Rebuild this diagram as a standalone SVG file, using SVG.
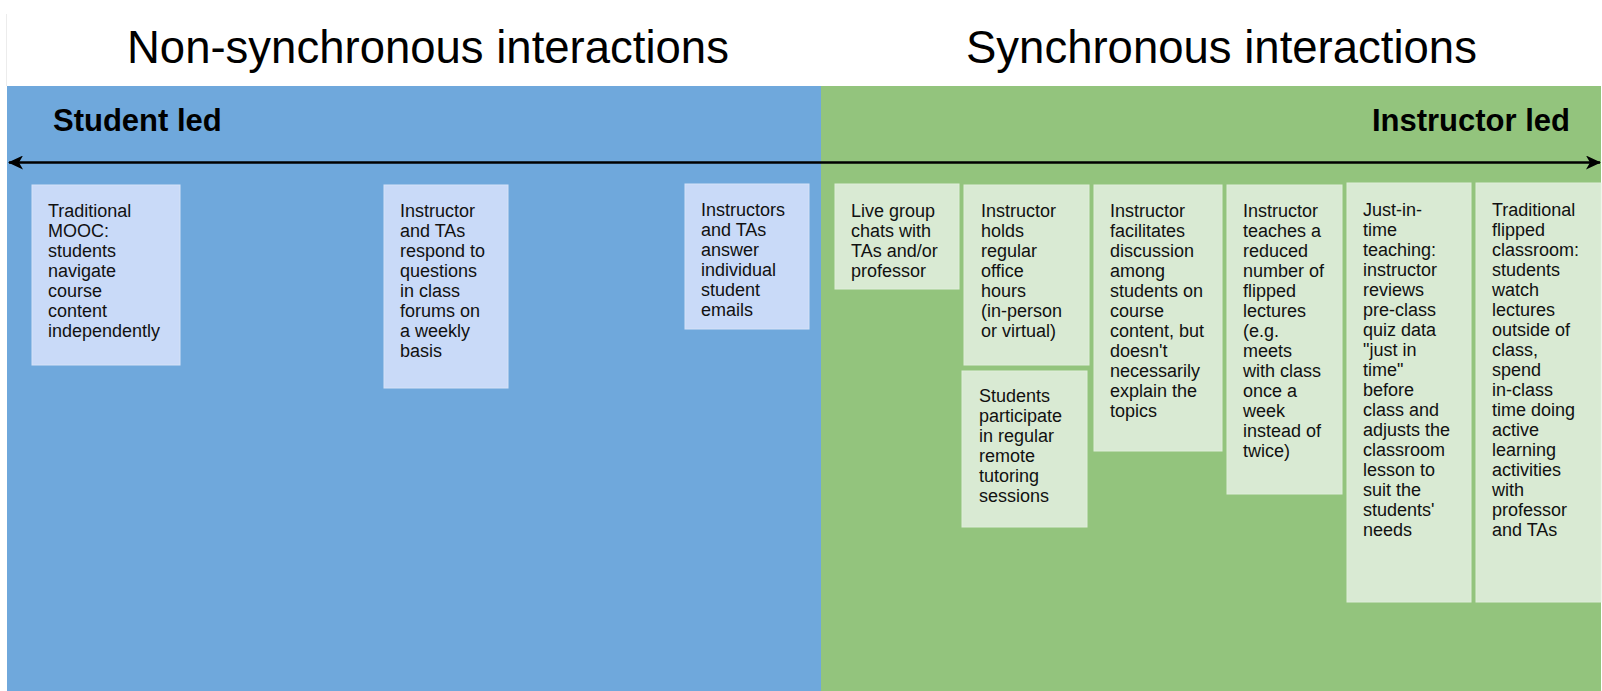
<svg xmlns="http://www.w3.org/2000/svg" width="1602" height="691" viewBox="0 0 1602 691">
<defs>
<style>
.title{font-family:"Liberation Sans",Arial,sans-serif;font-size:45.5px;fill:#000}
.lead{font-family:"Liberation Sans",Arial,sans-serif;font-size:31px;font-weight:bold;fill:#000}
.t{font-family:"Liberation Sans",Arial,sans-serif;font-size:18px;fill:#111}
.bb{fill:#c9daf8;stroke:#d6e2f7;stroke-width:1}
.gb{fill:#d9ead3;stroke:#dfeeda;stroke-width:1}
</style>
<marker id="ah" viewBox="0 0 16 14" refX="15" refY="7" markerWidth="16" markerHeight="14" markerUnits="userSpaceOnUse" orient="auto-start-reverse">
<path d="M16,7 L1,0 L5,7 L1,14 Z" fill="#000"/>
</marker>
</defs>
<rect x="0" y="0" width="1602" height="691" fill="#fff"/>
<line x1="6.5" y1="14" x2="6.5" y2="86" stroke="#ececec" stroke-width="1"/>
<g id="bg-nonsync">
<rect x="7" y="86" width="814" height="605" fill="#6fa8dc"/>
<text class="title" x="127" y="63">Non-synchronous interactions</text>
</g>
<g id="bg-sync">
<rect x="821" y="86" width="780" height="605" fill="#93c47d"/>
<text class="title" x="966" y="63">Synchronous interactions</text>
</g>
<text class="lead" x="53" y="131">Student led</text>
<text class="lead" x="1570" y="131" text-anchor="end">Instructor led</text>
<g id="connectors">
<line x1="9" y1="162.5" x2="1600" y2="162.5" stroke="#000" stroke-width="2.5" marker-start="url(#ah)" marker-end="url(#ah)"/>
</g>
<g id="n1">
<rect class="bb" x="32" y="185" width="148" height="180"/>
<text class="t" x="48" y="217"><tspan x="48">Traditional</tspan><tspan x="48" dy="20">MOOC:</tspan><tspan x="48" dy="20">students</tspan><tspan x="48" dy="20">navigate</tspan><tspan x="48" dy="20">course</tspan><tspan x="48" dy="20">content</tspan><tspan x="48" dy="20">independently</tspan></text>
</g>
<g id="n2">
<rect class="bb" x="384" y="185" width="124" height="203"/>
<text class="t" x="400" y="217"><tspan x="400">Instructor</tspan><tspan x="400" dy="20">and TAs</tspan><tspan x="400" dy="20">respond to</tspan><tspan x="400" dy="20">questions</tspan><tspan x="400" dy="20">in class</tspan><tspan x="400" dy="20">forums on</tspan><tspan x="400" dy="20">a weekly</tspan><tspan x="400" dy="20">basis</tspan></text>
</g>
<g id="n3">
<rect class="bb" x="685" y="184" width="124" height="145"/>
<text class="t" x="701" y="216"><tspan x="701">Instructors</tspan><tspan x="701" dy="20">and TAs</tspan><tspan x="701" dy="20">answer</tspan><tspan x="701" dy="20">individual</tspan><tspan x="701" dy="20">student</tspan><tspan x="701" dy="20">emails</tspan></text>
</g>
<g id="n4">
<rect class="gb" x="835" y="184" width="124" height="105"/>
<text class="t" x="851" y="217"><tspan x="851">Live group</tspan><tspan x="851" dy="20">chats with</tspan><tspan x="851" dy="20">TAs and/or</tspan><tspan x="851" dy="20">professor</tspan></text>
</g>
<g id="n5">
<rect class="gb" x="964" y="185" width="125" height="180"/>
<text class="t" x="981" y="217"><tspan x="981">Instructor</tspan><tspan x="981" dy="20">holds</tspan><tspan x="981" dy="20">regular</tspan><tspan x="981" dy="20">office</tspan><tspan x="981" dy="20">hours</tspan><tspan x="981" dy="20">(in-person</tspan><tspan x="981" dy="20">or virtual)</tspan></text>
</g>
<g id="n6">
<rect class="gb" x="962" y="371" width="125" height="156"/>
<text class="t" x="979" y="402"><tspan x="979">Students</tspan><tspan x="979" dy="20">participate</tspan><tspan x="979" dy="20">in regular</tspan><tspan x="979" dy="20">remote</tspan><tspan x="979" dy="20">tutoring</tspan><tspan x="979" dy="20">sessions</tspan></text>
</g>
<g id="n7">
<rect class="gb" x="1094" y="185" width="128" height="266"/>
<text class="t" x="1110" y="217"><tspan x="1110">Instructor</tspan><tspan x="1110" dy="20">facilitates</tspan><tspan x="1110" dy="20">discussion</tspan><tspan x="1110" dy="20">among</tspan><tspan x="1110" dy="20">students on</tspan><tspan x="1110" dy="20">course</tspan><tspan x="1110" dy="20">content, but</tspan><tspan x="1110" dy="20">doesn't</tspan><tspan x="1110" dy="20">necessarily</tspan><tspan x="1110" dy="20">explain the</tspan><tspan x="1110" dy="20">topics</tspan></text>
</g>
<g id="n8">
<rect class="gb" x="1227" y="185" width="115" height="309"/>
<text class="t" x="1243" y="217"><tspan x="1243">Instructor</tspan><tspan x="1243" dy="20">teaches a</tspan><tspan x="1243" dy="20">reduced</tspan><tspan x="1243" dy="20">number of</tspan><tspan x="1243" dy="20">flipped</tspan><tspan x="1243" dy="20">lectures</tspan><tspan x="1243" dy="20">(e.g.</tspan><tspan x="1243" dy="20">meets</tspan><tspan x="1243" dy="20">with class</tspan><tspan x="1243" dy="20">once a</tspan><tspan x="1243" dy="20">week</tspan><tspan x="1243" dy="20">instead of</tspan><tspan x="1243" dy="20">twice)</tspan></text>
</g>
<g id="n9">
<rect class="gb" x="1347" y="183" width="124" height="419"/>
<text class="t" x="1363" y="216"><tspan x="1363">Just-in-</tspan><tspan x="1363" dy="20">time</tspan><tspan x="1363" dy="20">teaching:</tspan><tspan x="1363" dy="20">instructor</tspan><tspan x="1363" dy="20">reviews</tspan><tspan x="1363" dy="20">pre-class</tspan><tspan x="1363" dy="20">quiz data</tspan><tspan x="1363" dy="20">"just in</tspan><tspan x="1363" dy="20">time"</tspan><tspan x="1363" dy="20">before</tspan><tspan x="1363" dy="20">class and</tspan><tspan x="1363" dy="20">adjusts the</tspan><tspan x="1363" dy="20">classroom</tspan><tspan x="1363" dy="20">lesson to</tspan><tspan x="1363" dy="20">suit the</tspan><tspan x="1363" dy="20">students'</tspan><tspan x="1363" dy="20">needs</tspan></text>
</g>
<g id="n10">
<rect class="gb" x="1476" y="183" width="125" height="419"/>
<text class="t" x="1492" y="216"><tspan x="1492">Traditional</tspan><tspan x="1492" dy="20">flipped</tspan><tspan x="1492" dy="20">classroom:</tspan><tspan x="1492" dy="20">students</tspan><tspan x="1492" dy="20">watch</tspan><tspan x="1492" dy="20">lectures</tspan><tspan x="1492" dy="20">outside of</tspan><tspan x="1492" dy="20">class,</tspan><tspan x="1492" dy="20">spend</tspan><tspan x="1492" dy="20">in-class</tspan><tspan x="1492" dy="20">time doing</tspan><tspan x="1492" dy="20">active</tspan><tspan x="1492" dy="20">learning</tspan><tspan x="1492" dy="20">activities</tspan><tspan x="1492" dy="20">with</tspan><tspan x="1492" dy="20">professor</tspan><tspan x="1492" dy="20">and TAs</tspan></text>
</g>
</svg>
